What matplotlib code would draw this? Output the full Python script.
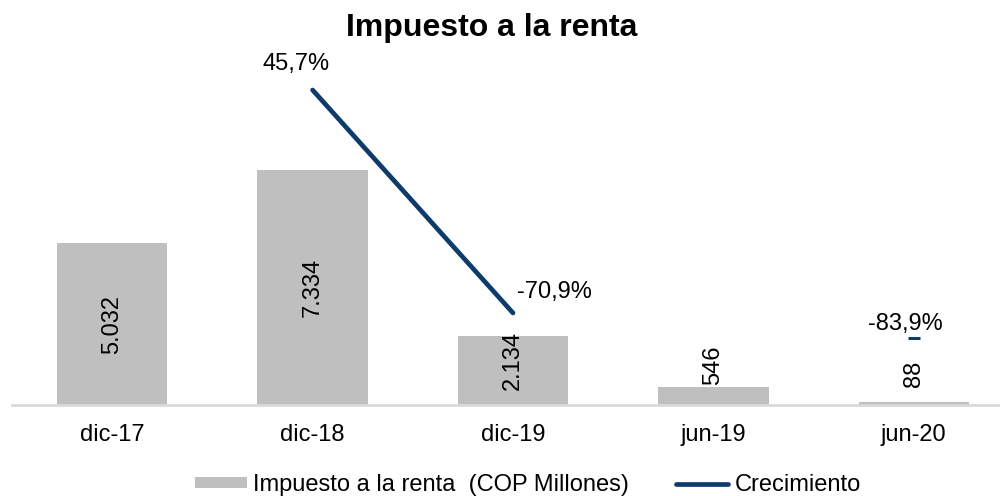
import matplotlib.pyplot as plt
import numpy as np

plt.rcParams['font.family'] = ['Liberation Sans', 'DejaVu Sans']

categorias = ['dic-17', 'dic-18', 'dic-19', 'jun-19', 'jun-20']
impuesto = [5032, 7334, 2134, 546, 88]
impuesto_txt = ['5.032', '7.334', '2.134', '546', '88']
crecimiento = [np.nan, 45.7, -70.9, np.nan, -83.9]
crecimiento_txt = ['', '45,7%', '-70,9%', '', '-83,9%']

gris = '#BFBFBF'
azul = '#0E3A6C'

fig = plt.figure(figsize=(10, 4.96), dpi=100)
ax = fig.add_axes([0.012, 0.1835, 1.002, 0.6956])
ax2 = ax.twinx()

x = np.arange(len(categorias))
ax.bar(x, impuesto, width=0.55, color=gris, zorder=2,
       label='Impuesto a la renta  (COP Millones)')
ax.set_xlim(-0.5, 4.5)
ax.set_ylim(0, 10748)
ax.set_xticks(x)
ax.set_xticklabels(categorias, fontsize=17)
ax.tick_params(axis='x', length=0, pad=14)
ax.set_yticks([])
for s in ['top', 'right', 'left']:
    ax.spines[s].set_visible(False)
    ax2.spines[s].set_visible(False)
ax.spines['bottom'].set_color('#D9D9D9')
ax.spines['bottom'].set_linewidth(2)
ax2.spines['bottom'].set_visible(False)

# etiquetas de las barras
for i, (v, t) in enumerate(zip(impuesto, impuesto_txt)):
    if v > 1000:
        off = 10 if v < 3000 else 0
        ax.annotate(t, (i, v / 2), xytext=(0, off), textcoords='offset pixels',
                    rotation=90, ha='center', va='center', fontsize=17, zorder=5)
    else:
        ax.annotate(t, (i, max(v, 500)), xytext=(0, 2), textcoords='offset pixels',
                    rotation=90, ha='center', va='bottom', fontsize=17, zorder=5)

# linea de crecimiento
ax2.plot(x, crecimiento, color=azul, lw=3.4, solid_capstyle='round',
         label='Crecimiento', zorder=3)
ax2.plot(x[4], crecimiento[4], marker='_', ms=8, mew=2.2, color=azul)
ax2.set_ylim(-119.0, 61.4)
ax2.set_yticks([])

offsets = {1: (-17, 26), 2: (41, 21), 4: (-8, 14)}
for i, (v, t) in enumerate(zip(crecimiento, crecimiento_txt)):
    if t:
        ax2.annotate(t, (i, v), xytext=offsets[i], textcoords='offset pixels',
                     ha='center', va='center', fontsize=17)

fig.text(0.492, 0.943, 'Impuesto a la renta', ha='center', va='center',
         fontsize=23, fontweight='bold')

h1, l1 = ax.get_legend_handles_labels()
h2, l2 = ax2.get_legend_handles_labels()
fig.legend(h1 + h2, l1 + l2, loc='center', bbox_to_anchor=(0.528, 0.022),
           ncol=2, frameon=False, fontsize=17, handlelength=2.2,
           handleheight=0.3, handletextpad=0.25, columnspacing=2.0)

fig.savefig('out.png', dpi=100)
